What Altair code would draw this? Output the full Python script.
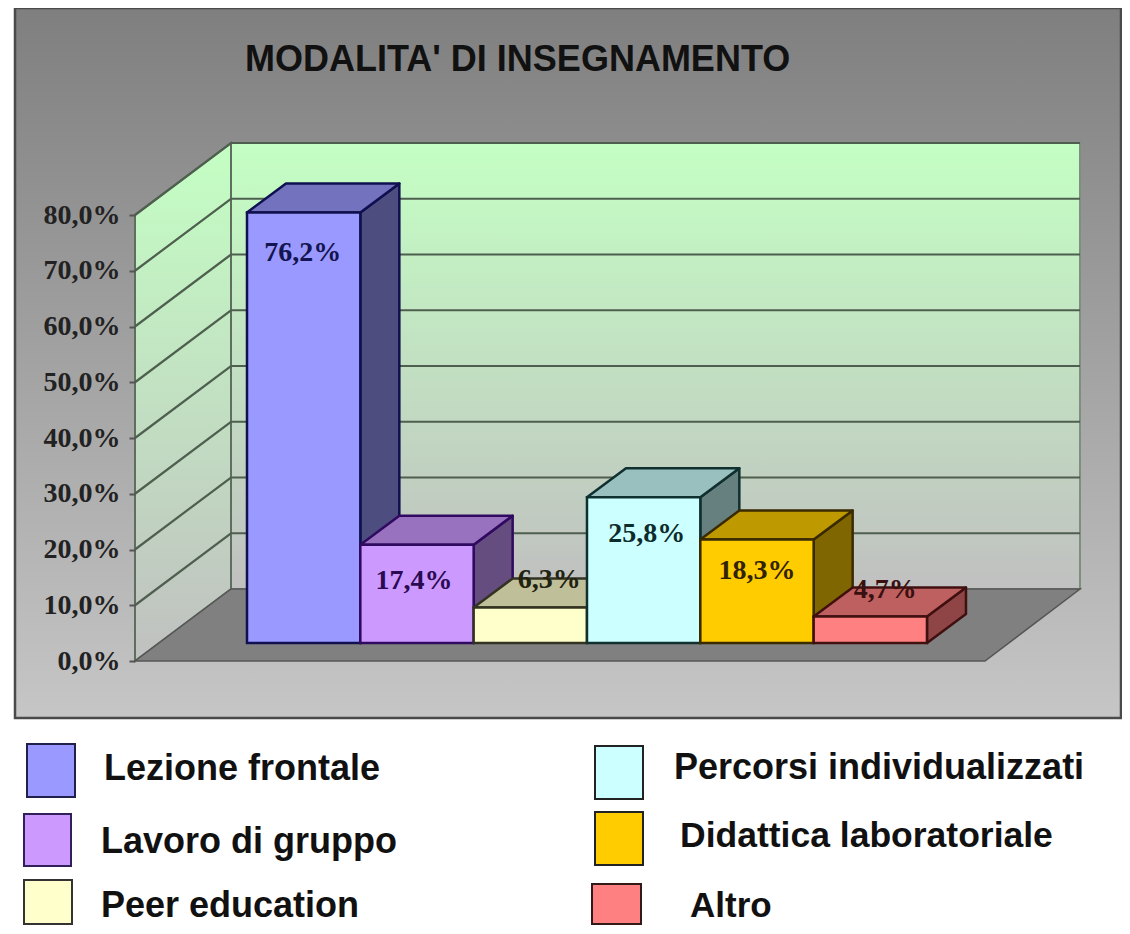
import altair as alt
import pandas as pd

# ---- data ----
categories = ["Lezione frontale", "Lavoro di gruppo", "Peer education",
              "Percorsi individualizzati", "Didattica laboratoriale", "Altro"]
values = [76.2, 17.4, 6.3, 25.8, 18.3, 4.7]
value_labels = ["76,2%", "17,4%", "6,3%", "25,8%", "18,3%", "4,7%"]
ticks = [0, 10, 20, 30, 40, 50, 60, 70, 80]
title_text = "MODALITA' DI INSEGNAMENTO"

# ---- styles ----
front = ["#9999ff", "#cc99ff", "#ffffcc", "#ccffff", "#ffcc00", "#ff8080"]
side = ["#4d4d80", "#664d80", "#80806a", "#668080", "#806600", "#8f4545"]
top = ["#7272bf", "#9972bf", "#bfbf99", "#99bfbf", "#bf9900", "#bf6060"]
edge = ["#101050", "#300a60", "#333322", "#103030", "#3a2a00", "#401010"]
label_col = ["#141450", "#2a0a50", "#222211", "#0c2c2c", "#332200", "#3a1010"]
label_off = [(-1, 40), (-3, 35), (19, -28), (3, 36), (0, 30), (15, -27)]

# ---- layout ----
W, H = 1114, 918
PX_U = 113.33          # pixels per category slot
U0 = 239               # plot x of the first bar's left edge
BAR_K, BAR_Y0 = 5.65, 635     # bars: pixels per percent, plot y of 0%
AX_K, AX_Y0 = 5.575, 653      # value axis plane
DEPTH_U, DEPTH_V = 39 / PX_U, 29 / BAR_K
WALL_L, WALL_R_F, WALL_B, WALL_R = (127 - U0) / PX_U, (977 - U0) / PX_U, (223 - U0) / PX_U, (1072 - U0) / PX_U
WALL_LIFT = 72 / AX_K

xs = alt.Scale(domain=[-U0 / PX_U, (W - U0) / PX_U], nice=False, zero=False)
ys_bar = alt.Scale(domain=[-(H - BAR_Y0) / BAR_K, BAR_Y0 / BAR_K], nice=False, zero=False)
ys_ax = alt.Scale(domain=[-(H - AX_Y0) / AX_K, AX_Y0 / AX_K], nice=False, zero=False)
X = alt.X("x:Q", scale=xs, axis=None)
X2 = alt.X2("x2:Q")
Y2 = alt.Y2("y2:Q")


def Y(scale):
    return alt.Y("y:Q", scale=scale, axis=None)


def grad(a, b):
    return alt.Gradient(gradient="linear", x1=0, x2=0, y1=0, y2=1,
                        stops=[alt.GradientStop(offset=0, color=a),
                               alt.GradientStop(offset=1, color=b)])


layers = []

# chart panel
layers.append(alt.Chart(pd.DataFrame({"a": [0]})).mark_rect(
    color=grad("#7f7f7f", "#c6c6c6"), stroke="#4a4a4a", strokeWidth=2.5
).encode(x=alt.value(7), x2=alt.value(1113), y=alt.value(0), y2=alt.value(710)))

# back wall
layers.append(alt.Chart(pd.DataFrame({"x": [WALL_B], "x2": [WALL_R],
                                      "y": [WALL_LIFT], "y2": [80 + WALL_LIFT]})).mark_rect(
    color=grad("#c4ffc4", "#c0c0c0"), stroke="#7f8f7f", strokeWidth=2
).encode(x=X, x2=X2, y=Y(ys_ax), y2=Y2))

# side wall
layers.append(alt.Chart(pd.DataFrame({"x": [WALL_L, WALL_B],
                                      "y": [0, WALL_LIFT],
                                      "y2": [80, 80 + WALL_LIFT]})).mark_area(
    color=grad("#c4ffc4", "#c0c0c0"), stroke="#5f6f5f", strokeWidth=2
).encode(x=X, y=Y(ys_ax), y2=Y2))

# floor
layers.append(alt.Chart(pd.DataFrame({"y": [0, WALL_LIFT],
                                      "x": [WALL_L, WALL_B],
                                      "x2": [WALL_R_F, WALL_R]})).mark_area(
    orient="horizontal", color="#808080", stroke="#555555", strokeWidth=1.5
).encode(x=X, x2=X2, y=Y(ys_ax)))

# grid lines on the two walls + value axis
grid_rows = []
for t in ticks:
    if t == 0:
        continue
    grid_rows += [{"t": t, "x": WALL_L, "y": t}, {"t": t, "x": WALL_B, "y": t + WALL_LIFT},
                  {"t": t, "x": WALL_R, "y": t + WALL_LIFT}]
layers.append(alt.Chart(pd.DataFrame(grid_rows)).mark_line(
    color="#4f5f4f", strokeWidth=2.2
).encode(x=X, detail="t:N"
         , y=alt.Y("y:Q", scale=ys_ax, axis=alt.Axis(
             orient="left", offset=-127, values=ticks, title=None, domain=False, grid=False,
             labelExpr="replace(format(datum.value, '.1f'), '.', ',') + '%'",
             labelFont="Liberation Serif", labelFontWeight="bold", labelFontSize=28,
             labelColor="#222222", tickColor="#555555", tickSize=6, tickWidth=2,
             labelPadding=9, zindex=1))))

# bars
for i, v in enumerate(values):
    x0, x1 = float(i), float(i + 1)
    layers.append(alt.Chart(pd.DataFrame({"x": [x1, x1 + DEPTH_U], "y": [0, DEPTH_V],
                                          "y2": [v, v + DEPTH_V]})).mark_area(
        color=side[i], stroke=edge[i], strokeWidth=2.5, strokeJoin="round"
    ).encode(x=X, y=Y(ys_bar), y2=Y2))
    layers.append(alt.Chart(pd.DataFrame({"y": [v, v + DEPTH_V], "x": [x0, x0 + DEPTH_U],
                                          "x2": [x1, x1 + DEPTH_U]})).mark_area(
        orient="horizontal", color=top[i], stroke=edge[i], strokeWidth=2.5, strokeJoin="round"
    ).encode(x=X, x2=X2, y=Y(ys_bar)))
    layers.append(alt.Chart(pd.DataFrame({"x": [x0], "x2": [x1], "y": [0], "y2": [v]})).mark_rect(
        color=front[i], stroke=edge[i], strokeWidth=2.5
    ).encode(x=X, x2=X2, y=Y(ys_bar), y2=Y2))

# value labels
for i, v in enumerate(values):
    layers.append(alt.Chart(pd.DataFrame({"x": [i + 0.5], "y": [v], "t": [value_labels[i]]})).mark_text(
        font="Liberation Serif", fontWeight="bold", fontSize=28, color=label_col[i],
        dx=label_off[i][0], dy=label_off[i][1] + 1, baseline="middle"
    ).encode(x=X, y=Y(ys_bar), text="t:N"))

# title
layers.append(alt.Chart(pd.DataFrame({"t": [title_text]})).mark_text(
    font="Liberation Sans", fontWeight="bold", fontSize=36, color="#111111", align="left",
    baseline="alphabetic"
).encode(x=alt.value(237), y=alt.value(63), text="t:N"))

# hand-placed legend, as in the picture
swatches = [(19, 736, 67, 789), (16, 806, 63, 858), (16, 872, 64, 916),
            (587, 738, 635, 791), (587, 804, 635, 857), (584, 876, 633, 916)]
swatch_stroke = ["#20204a", "#30205a", "#333333", "#222222", "#222222", "#331a1a"]
legend_text = [(96, 772), (93, 845), (93, 909), (666, 771), (672, 839), (682, 909)]
legend_size = [36, 36, 36, 36, 35.5, 35]

for i, name in enumerate(categories):
    a, b, c, d = swatches[i]
    layers.append(alt.Chart(pd.DataFrame({"a": [0]})).mark_rect(
        color=front[i], stroke=swatch_stroke[i], strokeWidth=2
    ).encode(x=alt.value(a), y=alt.value(b), x2=alt.value(c), y2=alt.value(d)))
    lx, ly = legend_text[i]
    layers.append(alt.Chart(pd.DataFrame({"t": [name]})).mark_text(
        font="Liberation Sans", fontWeight="bold", fontSize=legend_size[i], color="#111111",
        align="left", baseline="alphabetic"
    ).encode(x=alt.value(lx), y=alt.value(ly), text="t:N"))

chart = alt.layer(*layers).resolve_scale(y="independent").properties(
    width=W, height=H, padding=0, autosize=alt.AutoSizeParams(type="none"),
    background="white"
).configure_view(stroke=None)

chart.save("out.html", embed_options={"renderer": "svg", "actions": False})
